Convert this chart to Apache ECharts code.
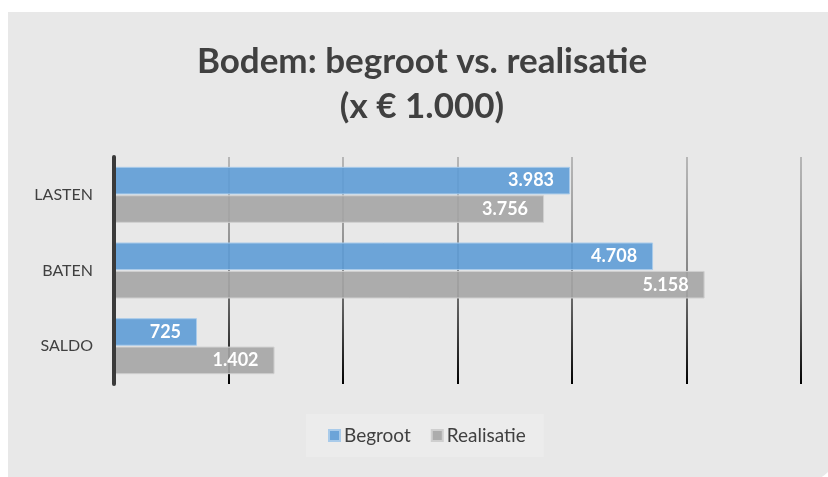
<!DOCTYPE html>
<html>
<head>
<meta charset="utf-8">
<script src="https://cdn.jsdelivr.net/npm/echarts@6/dist/echarts.min.js"></script>
<style>
  html, body { margin: 0; padding: 0; background: #fff; }
  #chart { width: 828px; height: 477px; }
</style>
</head>
<body>
<div id="chart"></div>
<script>
// categories from top to bottom
let categories = ['LASTEN', 'BATEN', 'SALDO']
let begroot = [3983, 4708, 725]
let realisatie = [3756, 5158, 1402]
let seriesNames = ['Begroot', 'Realisatie']

let chart = echarts.init(document.getElementById('chart'))

// 3983 -> "3.983"
let fmt = v => String(v).replace(/\B(?=(\d{3})+(?!\d))/g, '.')

let labelStyle = {
  show: true,
  position: 'insideRight',
  distance: 16,
  color: '#fff',
  fontWeight: 'bold',
  fontSize: 18,
  fontFamily: 'Lato',
  formatter: p => fmt(p.value)
}

chart.setOption({
  backgroundColor: '#fff',
  graphic: [{
    type: 'rect',
    z: -10,
    shape: { x: 8, y: 12, width: 830, height: 470, r: [0, 0, 34, 0] },
    style: { fill: '#e8e8e8' }
  }],
  title: {
    text: 'Bodem: begroot vs. realisatie\n(x € 1.000)',
    left: 417,
    textAlign: 'center',
    top: 34,
    textStyle: {
      fontFamily: 'Lato',
      fontWeight: 'bold',
      fontSize: 35,
      lineHeight: 45,
      color: '#404040'
    }
  },
  legend: {
    top: 414,
    left: 306,
    padding: [12, 18, 12, 22],
    backgroundColor: '#ececec',
    itemWidth: 11,
    itemHeight: 11,
    itemGap: 20,
    icon: 'rect',
    textStyle: { fontFamily: 'Lato', fontSize: 19, color: '#404040', padding: [0, 0, 0, -1] },
    data: seriesNames
  },
  grid: { left: 114, right: 27, top: 157, bottom: 93 },
  xAxis: {
    type: 'value',
    min: 0,
    max: 6000,
    interval: 1000,
    z: 1,
    axisLabel: { show: false },
    axisLine: { show: false },
    axisTick: { show: false },
    splitLine: {
      show: true,
      lineStyle: {
        width: 2,
        color: {
          type: 'linear', x: 0, y: 157, x2: 0, y2: 384, global: true,
          colorStops: [
            { offset: 0, color: 'rgba(150,150,150,0.6)' },
            { offset: 0.5, color: 'rgba(100,100,100,0.75)' },
            { offset: 1, color: 'rgba(0,0,0,1)' }
          ]
        }
      }
    }
  },
  yAxis: {
    type: 'category',
    inverse: true,
    data: categories,
    z: 6,
    axisLine: { show: true, lineStyle: { color: '#3a3a3a', width: 4 } },
    axisTick: { show: false },
    axisLabel: { margin: 21, fontFamily: 'Lato', fontSize: 16, color: '#404040' }
  },
  series: [{
    name: seriesNames[0],
    type: 'bar',
    z: 3,
    data: begroot,
    barCategoryGap: '26%',
    barGap: '3%',
    itemStyle: { color: 'rgba(94,156,214,0.9)', borderColor: '#a9cbea', borderWidth: 1 },
    label: labelStyle
  }, {
    name: seriesNames[1],
    type: 'bar',
    z: 3,
    data: realisatie,
    itemStyle: { color: 'rgba(165,165,165,0.9)', borderColor: '#cfcfcf', borderWidth: 1 },
    label: labelStyle
  }]
})
</script>
</body>
</html>
